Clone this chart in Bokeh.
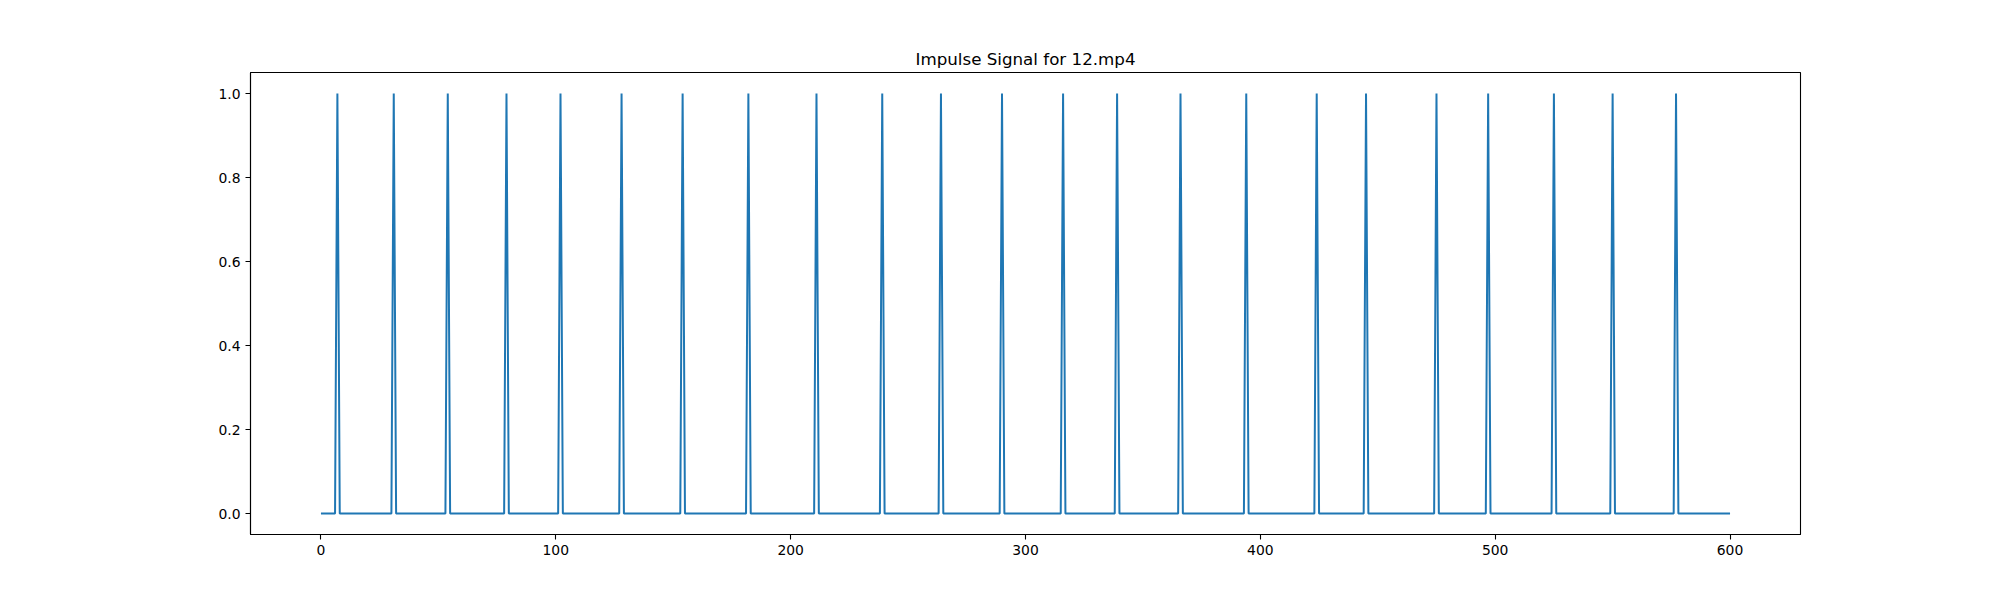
import numpy as np
from bokeh.plotting import figure
from bokeh.models import Range1d, FixedTicker, ColumnDataSource, CustomJSTickFormatter
from bokeh.embed import file_html
from bokeh.resources import INLINE

# Data
title_text = "Impulse Signal for 12.mp4"
n_samples = 601
impulse_frames = [7, 31, 54, 79, 102, 128, 154, 182, 211, 239, 264, 290,
                  316, 339, 366, 394, 424, 445, 475, 497, 525, 550, 577]
x_ticks = [0, 100, 200, 300, 400, 500, 600]
y_ticks = [0.0, 0.2, 0.4, 0.6, 0.8, 1.0]

frames = list(range(n_samples))
signal = [0.0] * n_samples
for f in impulse_frames:
    signal[f] = 1.0

source = ColumnDataSource(data=dict(x=frames, y=signal))

FONT = "DejaVu Sans"

p = figure(width=1984, height=584, output_backend="svg", toolbar_location=None,
           x_range=Range1d(-30, 630), y_range=Range1d(-0.05, 1.05),
           min_border_left=250, min_border_right=184,
           min_border_top=72, min_border_bottom=50)

p.line("x", "y", source=source, line_color="#1f77b4", line_width=2)

p.title.text = title_text
p.title.align = "center"
p.title.text_font = FONT
p.title.text_font_size = "16.7px"
p.title.text_font_style = "normal"
p.title.text_color = "black"
p.title.standoff = 7

p.xgrid.visible = False
p.ygrid.visible = False
p.outline_line_color = "black"
p.outline_line_width = 1.1
p.outline_line_alpha = 1.0
p.background_fill_color = "white"
p.border_fill_color = "white"

p.xaxis.ticker = FixedTicker(ticks=x_ticks)
p.yaxis.ticker = FixedTicker(ticks=y_ticks)
p.yaxis.formatter = CustomJSTickFormatter(code="return tick.toFixed(1);")

for ax in (p.xaxis[0], p.yaxis[0]):
    ax.axis_line_color = "black"
    ax.axis_line_width = 1.1
    ax.major_tick_line_color = "black"
    ax.major_tick_line_width = 1.1
    ax.major_tick_in = 0
    ax.major_tick_out = 5
    ax.minor_tick_line_color = None
    ax.major_label_text_font = FONT
    ax.major_label_text_font_size = "13.9px"
    ax.major_label_text_color = "black"
    ax.major_label_standoff = 5

open("out.html", "w").write(file_html(p, INLINE))
